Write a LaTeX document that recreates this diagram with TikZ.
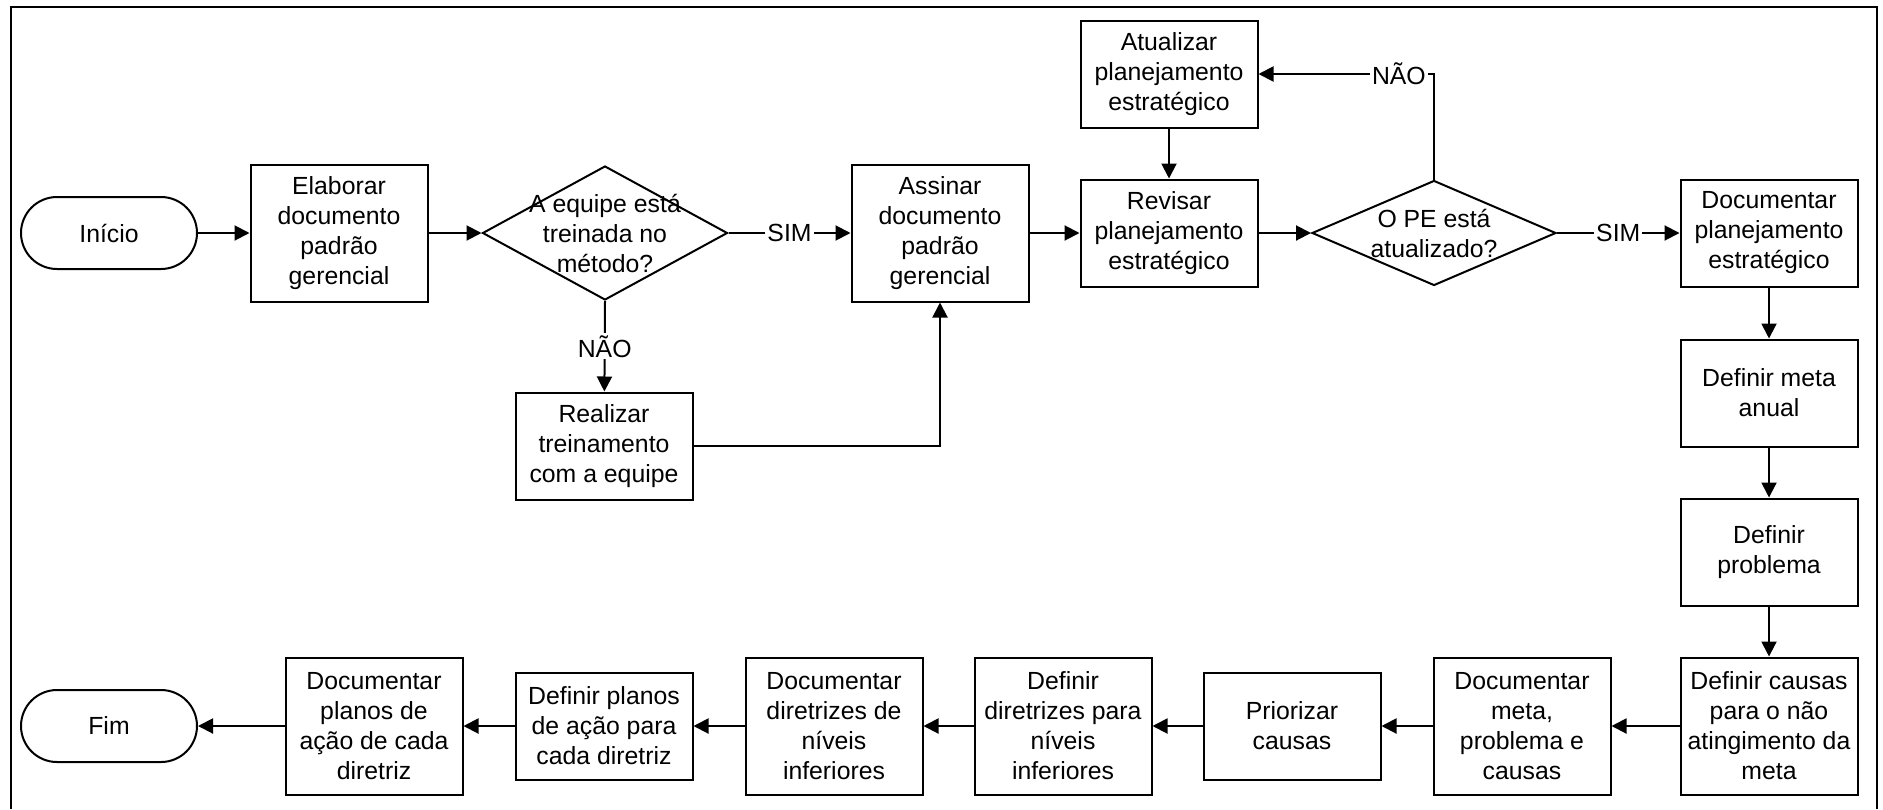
\documentclass[tikz,border=0pt]{standalone}
\usepackage{fontspec}
\setmainfont{Liberation Sans}
\usetikzlibrary{arrows.meta,shapes.geometric}
\begin{document}
\begin{tikzpicture}[x=0.5pt,y=-0.5pt,
  every node/.style={font=\fontsize{12.4}{15}\selectfont},
  proc/.style={draw,line width=1pt,minimum width=88.5pt,align=center,inner sep=1pt},
  p4/.style={proc,minimum height=68.5pt},
  p3/.style={proc,minimum height=53.5pt},
  term/.style={draw,line width=1pt,rounded corners=18pt,minimum width=88pt,minimum height=36pt},
  dia/.style={draw,line width=1pt,diamond,inner sep=0pt},
  conn/.style={line width=1pt,-{Triangle[length=7.5pt,width=7.5pt]}},
  lbl/.style={fill=white,inner sep=1pt}]
\useasboundingbox (0,0) rectangle (1883,809);
\draw[line width=1pt] (11,809) -- (11,7) -- (1877,7) -- (1877,809);
% top row
\node[term] (ini) at (109,233) {Início};
\node[p4] (elab) at (339,233) {Elaborar\\documento\\padrão\\gerencial};
\node[dia,minimum width=122.5pt,minimum height=67pt] (d1) at (605,233) {};
\node[align=center] at (605,233) {A equipe está\\treinada no\\método?};
\node[p4] (assin) at (940,233) {Assinar\\documento\\padrão\\gerencial};
\node[p3] (real) at (604,446) {Realizar\\treinamento\\com a equipe};
\node[p3] (atual) at (1169,74) {Atualizar\\planejamento\\estratégico};
\node[p3] (revis) at (1169,233) {Revisar\\planejamento\\estratégico};
\node[dia,minimum width=122pt,minimum height=52.5pt] (d2) at (1434,233) {};
\node[align=center] at (1434,233) {O PE está\\atualizado?};
\node[p3] (docpe) at (1769,233) {Documentar\\planejamento\\estratégico};
\node[p3] (meta) at (1769,393) {Definir meta\\anual};
\node[p3] (prob) at (1769,552) {Definir\\problema};
% bottom row
\node[p4] (causas) at (1769,726) {Definir causas\\para o não\\atingimento da\\meta};
\node[p4] (docmeta) at (1522,726) {Documentar\\meta,\\problema e\\causas};
\node[p3] (prior) at (1292,726) {Priorizar\\causas};
\node[p4] (defdir) at (1063,726) {Definir\\diretrizes para\\níveis\\inferiores};
\node[p4] (docdir) at (834,726) {Documentar\\diretrizes de\\níveis\\inferiores};
\node[p3] (defpl) at (604,726) {Definir planos\\de ação para\\cada diretriz};
\node[p4] (docpl) at (374,726) {Documentar\\planos de\\ação de cada\\diretriz};
\node[term] (fim) at (109,726) {Fim};
% connectors
\draw[conn] (ini) -- (elab);
\draw[conn] (elab) -- (d1.west);
\draw[conn] (d1.east) -- node[lbl]{SIM} (assin);
\draw[conn] (d1.south) -- node[lbl]{NÃO} (real);
\draw[conn] (real.east) -| (assin.south);
\draw[conn] (assin) -- (revis);
\draw[conn] (revis) -- (d2.west);
\draw[conn] (d2.east) -- node[lbl]{SIM} (docpe);
\draw[conn] (d2.north) |- node[lbl,pos=0.6]{NÃO} (atual.east);
\draw[conn] (atual) -- (revis);
\draw[conn] (docpe) -- (meta);
\draw[conn] (meta) -- (prob);
\draw[conn] (prob) -- (causas);
\draw[conn] (causas) -- (docmeta);
\draw[conn] (docmeta) -- (prior);
\draw[conn] (prior) -- (defdir);
\draw[conn] (defdir) -- (docdir);
\draw[conn] (docdir) -- (defpl);
\draw[conn] (defpl) -- (docpl);
\draw[conn] (docpl) -- (fim);
\end{tikzpicture}
\end{document}
